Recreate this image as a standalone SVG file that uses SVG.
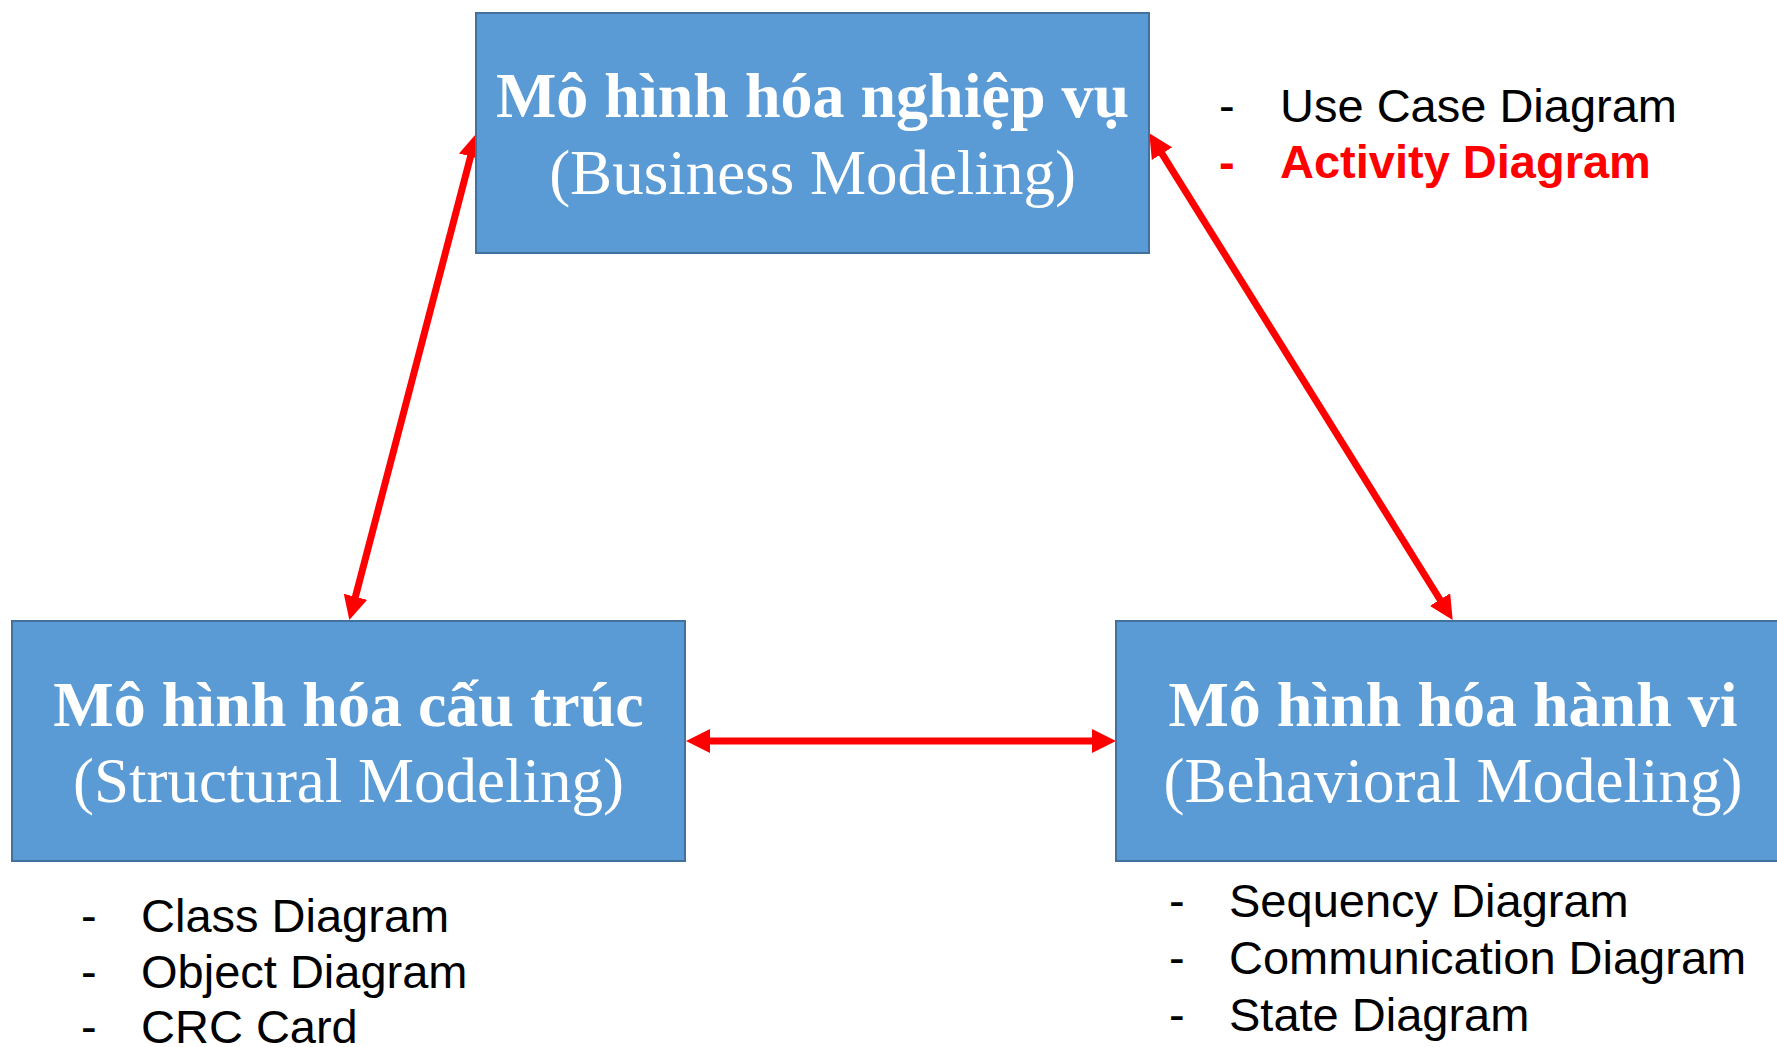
<svg xmlns="http://www.w3.org/2000/svg" width="1777" height="1047" viewBox="0 0 1777 1047">
<style>
.box{fill:#5B9BD5;stroke:#41719C;stroke-width:2}
.t1{font-family:"Liberation Serif","Times New Roman",serif;font-weight:bold;font-size:64px;fill:#fff;text-anchor:middle}
.t2{font-family:"Liberation Serif","Times New Roman",serif;font-size:63px;fill:#fff;text-anchor:middle}
.li{font-family:"Liberation Sans",Arial,sans-serif;font-size:47px;fill:#000}
.red{fill:#FF0000;font-weight:bold}
.conn{stroke:#FF0000;stroke-width:7;fill:none}
</style>
<defs>
<marker id="ah" viewBox="0 0 24 24" refX="4" refY="12" markerWidth="24" markerHeight="24" markerUnits="userSpaceOnUse" orient="auto-start-reverse">
<path d="M0,0 L24,12 L0,24 z" fill="#FF0000"/>
</marker>
</defs>
<rect width="1777" height="1047" fill="#fff"/>
<g id="connectors">
<line class="conn" x1="471.6" y1="152.7" x2="354.4" y2="600.7" marker-start="url(#ah)" marker-end="url(#ah)"/>
<line class="conn" x1="1159.9" y1="150.3" x2="1442.1" y2="603" marker-start="url(#ah)" marker-end="url(#ah)"/>
<line class="conn" x1="706" y1="741" x2="1096" y2="741" marker-start="url(#ah)" marker-end="url(#ah)"/>
</g>
<g id="business">
<rect class="box" x="476" y="13" width="673" height="240"/>
<text class="t1" x="812.5" y="117">Mô hình hóa nghiệp vụ</text>
<text class="t2" x="812.5" y="194">(Business Modeling)</text>
</g>
<g id="structural">
<rect class="box" x="12" y="621" width="673" height="240"/>
<text class="t1" x="348.5" y="726">Mô hình hóa cấu trúc</text>
<text class="t2" x="348.5" y="802">(Structural Modeling)</text>
</g>
<g id="behavioral">
<rect class="box" x="1116" y="621" width="674" height="240"/>
<text class="t1" x="1453" y="726">Mô hình hóa hành vi</text>
<text class="t2" x="1453" y="802">(Behavioral Modeling)</text>
</g>
<g id="business-list">
<text class="li" x="1219" y="122">-</text>
<text class="li" x="1280" y="122">Use Case Diagram</text>
<text class="li red" x="1219" y="178">-</text>
<text class="li red" x="1280" y="178">Activity Diagram</text>
</g>
<g id="structural-list">
<text class="li" x="81" y="932">-</text>
<text class="li" x="141" y="932">Class Diagram</text>
<text class="li" x="81" y="988">-</text>
<text class="li" x="141" y="988">Object Diagram</text>
<text class="li" x="81" y="1043">-</text>
<text class="li" x="141" y="1043">CRC Card</text>
</g>
<g id="behavioral-list">
<text class="li" x="1169" y="917">-</text>
<text class="li" x="1229" y="917">Sequency Diagram</text>
<text class="li" x="1169" y="974">-</text>
<text class="li" x="1229" y="974">Communication Diagram</text>
<text class="li" x="1169" y="1031">-</text>
<text class="li" x="1229" y="1031">State Diagram</text>
</g>
</svg>
